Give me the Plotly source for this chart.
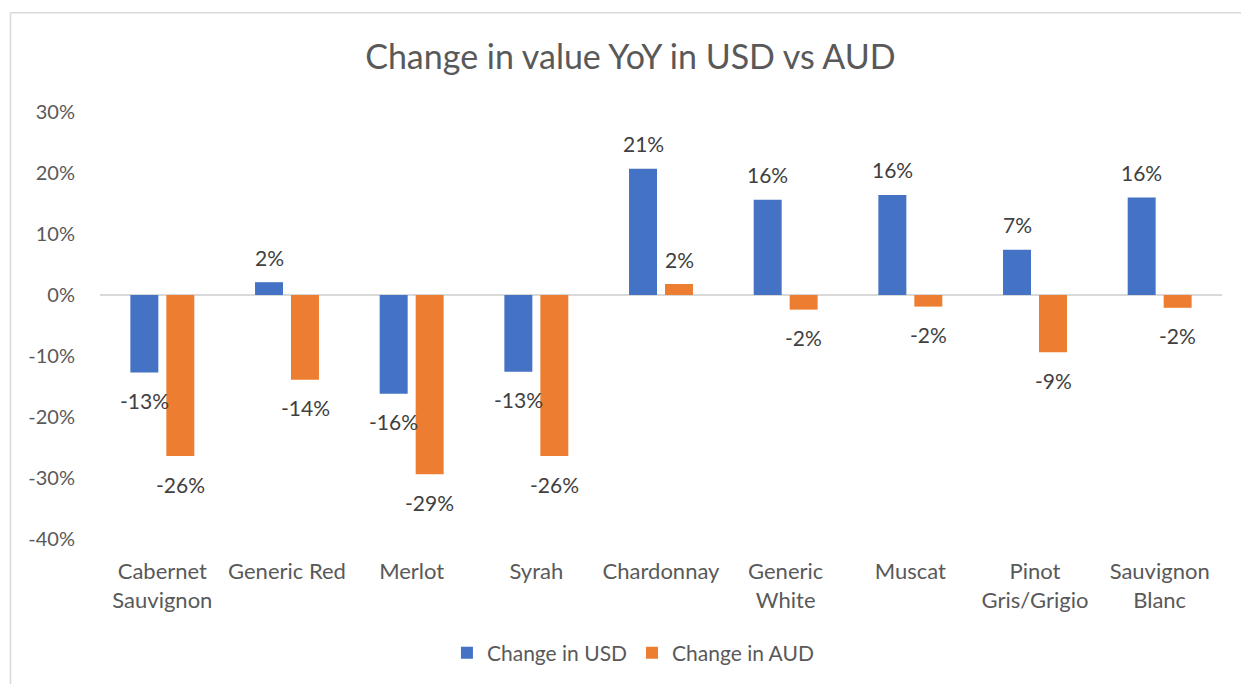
import plotly.graph_objects as go

# Wine varietals and year-on-year change in value (fractions)
categories = [
    "Cabernet<br>Sauvignon", "Generic Red", "Merlot", "Syrah", "Chardonnay",
    "Generic<br>White", "Muscat", "Pinot<br>Gris/Grigio", "Sauvignon<br>Blanc",
]
change_usd = [-0.127, 0.021, -0.162, -0.126, 0.207, 0.156, 0.164, 0.074, 0.160]
change_aud = [-0.264, -0.139, -0.294, -0.264, 0.018, -0.024, -0.019, -0.094, -0.021]

# Value axis ticks (fractions) and their printed labels
y_ticks = [-0.4, -0.3, -0.2, -0.1, 0.0, 0.1, 0.2, 0.3]
y_tick_labels = ["-40%", "-30%", "-20%", "-10%", "0%", "10%", "20%", "30%"]

series = [
    ("Change in USD", change_usd, "#4472C4", -18),
    ("Change in AUD", change_aud, "#ED7D31", 18),
]

FONT = "Lato"
GREY = "#595959"

fig = go.Figure()
for name, vals, color, _ in series:
    fig.add_trace(go.Bar(
        x=categories, y=vals, name=name,
        marker=dict(color=color, line=dict(width=0)),
    ))

# Value labels sit just beyond the end of each bar
annotations = []
for name, vals, color, xs in series:
    for cat, v in zip(categories, vals):
        annotations.append(dict(
            x=cat, y=v, xref="x", yref="y",
            text=f"{round(v * 100):d}%",
            showarrow=False, xshift=xs,
            yshift=25 if v >= 0 else -28,
            yanchor="middle", xanchor="center",
            font=dict(family=FONT, size=21, color="#404040"),
        ))

fig.update_layout(
    width=1241, height=684,
    margin=dict(l=100, r=19, t=112, b=144),
    paper_bgcolor="white", plot_bgcolor="white",
    barmode="group", bargap=0.423, bargroupgap=0.222,
    title=dict(
        text="Change in value YoY in USD vs AUD",
        x=0.508, xref="container", xanchor="center",
        y=1 - 57 / 684, yref="container", yanchor="middle",
        font=dict(family=FONT, size=34, color=GREY),
    ),
    font=dict(family=FONT, color=GREY),
    showlegend=True,
    legend=dict(
        orientation="h", x=0.475, xanchor="center",
        y=-0.264, yanchor="middle",
        font=dict(family=FONT, size=21, color=GREY),
        itemwidth=30, tracegroupgap=0,
    ),
    annotations=annotations,
    shapes=[
        dict(type="line", xref="paper", yref="paper",
             x0=-0.0798, x1=-0.0798, y0=-0.6, y1=1.2325,
             line=dict(color="#D9D9D9", width=1.5)),
        dict(type="line", xref="paper", yref="paper",
             x0=-0.0798, x1=1.2, y0=1.2325, y1=1.2325,
             line=dict(color="#D9D9D9", width=1.5)),
    ],
)

fig.update_xaxes(
    showgrid=False, showline=False, ticks="",
    tickfont=dict(family=FONT, size=22, color=GREY),
    ticklabelstandoff=17,
)
fig.update_yaxes(
    range=[-0.4, 0.3], tickvals=y_ticks, ticktext=y_tick_labels,
    showgrid=False, showline=False, ticks="",
    zeroline=True, zerolinecolor="#D9D9D9", zerolinewidth=2,
    tickfont=dict(family=FONT, size=20, color=GREY),
    ticklabelstandoff=24,
)

fig.write_html("out.html")
